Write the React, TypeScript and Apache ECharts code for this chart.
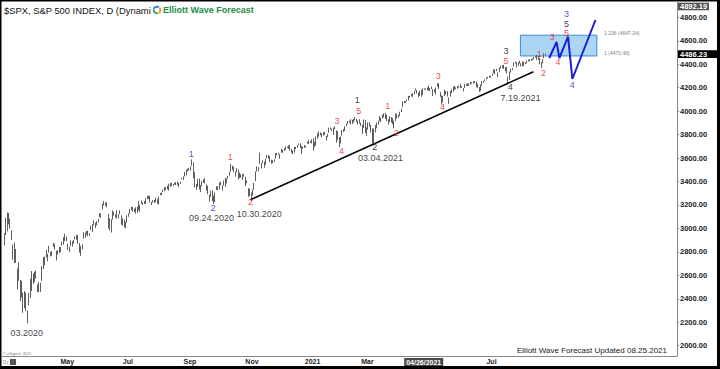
import React, { useEffect, useRef } from 'react';
import * as echarts from 'echarts';

// ---- daily price bars: [day, low, high] per month ----
const m2020_02 = [[28, 2855, 2959]];
const m2020_03 = [[2,2945,3090],[3,2976,3136],[4,3035,3131],[5,2999,3083],[6,2901,2985],[9,2734,2863],[10,2705,2882],[11,2707,2825],[12,2478,2660],[13,2555,2711],[16,2381,2562],[17,2409,2553],[18,2281,2453],[19,2319,2466],[20,2295,2453],[23,2192,2300],[24,2345,2449],[25,2407,2571],[26,2467,2637],[27,2525,2615],[30,2543,2631],[31,2572,2641]];
const m2020_04 = [[1,2459,2522],[2,2455,2540],[3,2459,2538],[6,2553,2677],[7,2653,2756],[8,2685,2760],[9,2753,2819],[13,2720,2782],[14,2793,2852],[15,2761,2801],[16,2767,2806],[17,2843,2879],[20,2820,2868],[21,2727,2810],[22,2777,2815],[23,2790,2844],[24,2798,2842],[27,2855,2888],[28,2861,2926],[29,2891,2954],[30,2892,2930]];
const m2020_05 = [[1,2816,2870],[4,2798,2844],[5,2852,2898],[6,2846,2891],[7,2870,2902],[8,2908,2932],[11,2903,2945],[12,2869,2945],[13,2794,2875],[14,2766,2852],[15,2822,2865],[18,2913,2969],[19,2922,2964],[20,2948,2981],[21,2933,2978],[22,2937,2957],[26,2988,3022],[27,2969,3036],[28,3025,3068],[29,3004,3049]];
const m2020_06 = [[1,3026,3062],[2,3051,3081],[3,3098,3130],[4,3090,3128],[5,3163,3211],[8,3196,3233],[9,3193,3222],[10,3181,3223],[11,2999,3123],[12,2984,3088],[15,2965,3079],[16,3075,3153],[17,3110,3141],[18,3093,3120],[19,3084,3156],[22,3084,3120],[23,3122,3154],[24,3032,3112],[25,3024,3086],[26,3007,3074],[29,3004,3054],[30,3047,3112]];
const m2020_07 = [[1,3099,3128],[2,3124,3165],[6,3156,3183],[7,3144,3184],[8,3141,3170],[9,3127,3180],[10,3135,3186],[13,3154,3235],[14,3142,3200],[15,3208,3238],[16,3199,3220],[17,3209,3233],[20,3208,3258],[21,3251,3277],[22,3248,3279],[23,3221,3280],[24,3200,3227],[27,3220,3241],[28,3217,3243],[29,3224,3263],[30,3209,3250],[31,3205,3272]];
const m2020_08 = [[3,3284,3302],[4,3284,3307],[5,3310,3331],[6,3318,3352],[7,3328,3352],[10,3332,3363],[11,3322,3381],[12,3355,3387],[13,3363,3387],[14,3361,3378],[17,3373,3388],[18,3370,3396],[19,3369,3399],[20,3354,3390],[21,3379,3399],[24,3418,3432],[25,3413,3444],[26,3444,3481],[27,3452,3502],[28,3486,3510],[31,3495,3514]];
const m2020_09 = [[1,3494,3528],[2,3535,3588],[3,3427,3564],[4,3350,3480],[8,3329,3380],[9,3354,3424],[10,3332,3425],[11,3310,3369],[14,3361,3403],[15,3388,3419],[16,3384,3428],[17,3323,3375],[18,3292,3363],[21,3229,3286],[22,3270,3321],[23,3232,3325],[24,3209,3279],[25,3224,3306],[28,3328,3361],[29,3327,3358],[30,3333,3393]];
const m2020_10 = [[1,3369,3398],[2,3324,3369],[5,3367,3409],[6,3354,3432],[7,3384,3426],[8,3425,3447],[9,3450,3482],[12,3484,3549],[13,3500,3534],[14,3480,3528],[15,3441,3485],[16,3479,3516],[19,3419,3502],[20,3431,3476],[21,3432,3461],[22,3415,3461],[23,3441,3466],[26,3361,3441],[27,3384,3410],[28,3270,3342],[29,3277,3342],[30,3234,3305]];
const m2020_11 = [[2,3280,3331],[3,3329,3389],[4,3404,3486],[5,3485,3529],[6,3486,3521],[9,3550,3646],[10,3511,3558],[11,3557,3582],[12,3518,3570],[13,3543,3593],[16,3600,3628],[17,3595,3624],[18,3567,3619],[19,3552,3586],[20,3556,3582],[23,3567,3589],[24,3595,3643],[25,3622,3643],[27,3630,3645],[30,3594,3634]];
const m2020_12 = [[1,3646,3678],[2,3645,3670],[3,3661,3682],[4,3670,3699],[7,3687,3698],[8,3678,3708],[9,3663,3712],[10,3645,3678],[11,3633,3665],[14,3646,3697],[15,3675,3695],[16,3688,3711],[17,3711,3725],[18,3685,3726],[21,3636,3702],[22,3680,3698],[23,3688,3712],[24,3689,3703],[28,3723,3740],[29,3720,3756],[30,3729,3744],[31,3725,3760]];
const m2021_01 = [[4,3663,3770],[5,3695,3738],[6,3706,3784],[7,3765,3811],[8,3783,3826],[11,3794,3818],[12,3777,3811],[13,3792,3820],[14,3795,3823],[15,3750,3788],[19,3780,3805],[20,3816,3859],[21,3845,3861],[22,3830,3852],[25,3797,3859],[26,3846,3870],[27,3732,3836],[28,3755,3830],[29,3694,3778]];
const m2021_02 = [[1,3725,3784],[2,3791,3838],[3,3824,3848],[4,3831,3872],[5,3872,3894],[8,3892,3915],[9,3902,3918],[10,3885,3931],[11,3890,3925],[12,3903,3934],[16,3921,3950],[17,3906,3933],[18,3885,3921],[19,3894,3931],[22,3874,3902],[23,3805,3883],[24,3857,3928],[25,3814,3925],[26,3789,3861]];
const m2021_03 = [[1,3843,3903],[2,3868,3906],[3,3817,3882],[4,3723,3852],[5,3730,3851],[8,3819,3881],[9,3854,3903],[10,3885,3918],[11,3916,3960],[12,3906,3944],[15,3937,3970],[16,3948,3981],[17,3933,3983],[18,3914,3969],[19,3885,3930],[22,3907,3955],[23,3902,3949],[24,3888,3942],[25,3853,3919],[26,3917,3978],[29,3937,3981],[30,3944,3968],[31,3959,3995]];
const m2021_04 = [[1,3992,4021],[5,4034,4084],[6,4068,4086],[7,4069,4084],[8,4083,4098],[9,4091,4129],[12,4114,4131],[13,4125,4148],[14,4122,4151],[15,4143,4173],[16,4175,4192],[19,4150,4180],[20,4118,4159],[21,4131,4175],[22,4124,4179],[23,4139,4194],[26,4182,4194],[27,4183,4193],[28,4177,4201],[29,4175,4219],[30,4171,4198]];
const m2021_05 = [[3,4188,4209],[4,4128,4187],[5,4162,4187],[6,4141,4202],[7,4207,4238],[10,4188,4237],[11,4122,4162],[12,4056,4134],[13,4074,4131],[14,4129,4183],[17,4143,4172],[18,4125,4170],[19,4062,4116],[20,4123,4173],[21,4154,4188],[24,4165,4210],[25,4181,4214],[26,4188,4202],[27,4192,4213],[28,4200,4218]];
const m2021_06 = [[1,4197,4234],[2,4198,4212],[3,4168,4197],[4,4198,4233],[7,4217,4232],[8,4213,4237],[9,4218,4237],[10,4224,4249],[11,4237,4249],[14,4235,4255],[15,4240,4257],[16,4203,4252],[17,4201,4233],[18,4164,4205],[21,4173,4226],[22,4217,4255],[23,4240,4256],[24,4255,4271],[25,4271,4286],[28,4279,4292],[29,4286,4300],[30,4286,4302]];
const m2021_07 = [[1,4300,4320],[2,4322,4355],[6,4315,4356],[7,4340,4361],[8,4289,4330],[9,4332,4372],[12,4365,4386],[13,4366,4393],[14,4359,4394],[15,4340,4376],[16,4321,4376],[19,4233,4296],[20,4265,4337],[21,4329,4359],[22,4351,4369],[23,4381,4415],[26,4405,4422],[27,4372,4416],[28,4386,4416],[29,4406,4430],[30,4381,4408]];
const m2021_08 = [[2,4381,4422],[3,4385,4423],[4,4400,4416],[5,4407,4430],[6,4425,4441],[9,4424,4442],[10,4429,4445],[11,4436,4449],[12,4441,4461],[13,4456,4468],[16,4437,4480],[17,4436,4468],[18,4400,4455],[19,4367,4418],[20,4408,4445],[23,4451,4492],[24,4478,4492]];

const priceMonths: [string, number[][]][] = [
  ['2020-02', m2020_02], ['2020-03', m2020_03], ['2020-04', m2020_04], ['2020-05', m2020_05],
  ['2020-06', m2020_06], ['2020-07', m2020_07], ['2020-08', m2020_08], ['2020-09', m2020_09],
  ['2020-10', m2020_10], ['2020-11', m2020_11], ['2020-12', m2020_12], ['2021-01', m2021_01],
  ['2021-02', m2021_02], ['2021-03', m2021_03], ['2021-04', m2021_04], ['2021-05', m2021_05],
  ['2021-06', m2021_06], ['2021-07', m2021_07], ['2021-08', m2021_08],
];

// ---- calendar ----
const HOLIDAYS = ['2020-04-10','2020-05-25','2020-07-03','2020-09-07','2020-11-26','2020-12-25','2021-01-01','2021-01-18','2021-02-15','2021-04-02','2021-05-31','2021-07-05','2021-09-06','2021-11-25','2021-12-24'];
const TOTAL_DAYS = 467;

// ---- axis ticks ----
const xTickDates = ['2020-05-01','2020-07-01','2020-09-01','2020-11-02','2021-01-04','2021-03-01','2021-07-01'];
const xTickLabels = ['May','Jul','Sep','Nov','2021','Mar','Jul'];
const cursorDate = '2021-04-26';
const cursorLabel = '04/26/2021';
const yTicks = [2000,2200,2400,2600,2800,3000,3200,3400,3600,3800,4000,4200,4400,4600,4800];

// ---- annotations ----
const lastPrice = 4486.23;
const topPrice = 4892.19;
const trendDates = ['2020-10-30','2021-08-12'];
const trendValues = [3245, 4336];
const projDates = ['2021-08-27','2021-09-03','2021-09-08','2021-09-16','2021-09-21','2021-10-13'];
const projValues = [4453, 4589, 4453, 4635, 4274, 4777];
const boxDates = ['2021-07-30','2021-10-14'];
const boxValues = [4647.24, 4470.48];
const boxTexts = ['1.236 (4647.24)', '1 (4470.48)'];
const boxTextDate = '2021-10-21';
const boxTextValues = [4667, 4496];

const waveText = ['03.2020','1','2','09.24.2020','1','2','10.30.2020','3','4','5','1','2','03.04.2021','1','2','3','4','3','5','4','7.19.2021','1','2','3','4','5','5','3','4'];
const waveDates = ['2020-03-23','2020-09-02','2020-09-24','2020-09-23','2020-10-12','2020-10-30','2020-11-09','2021-01-28','2021-02-02','2021-02-19','2021-02-18','2021-03-08','2021-03-12','2021-03-19','2021-03-29','2021-05-10','2021-05-13','2021-07-16','2021-07-16','2021-07-21','2021-07-30','2021-08-18','2021-08-23','2021-08-31','2021-09-07','2021-09-15','2021-09-15','2021-09-15','2021-09-21'];
const waveValues = [2110,3635,3172,3086,3606,3225,3123,3918,3660,4005,4099,3692,3598,4044,3816,4300,4038,4513,4427,4203,4109,4487,4328,4635,4419,4662,4743,4832,4223];
const waveColors = ['k','b','b','k','r','r','k','r','r','r','k','k','k','r','r','r','r','k','r','k','k','r','r','r','r','r','k','b','b'];

const COLORS: Record<string, string> = { k: '#0a0a0a', r: '#e01a18', b: '#1c1cd6' };
const FONT = '"Liberation Sans", Arial, sans-serif';

function buildDates(): string[] {
  const out: string[] = [];
  const d = new Date(Date.UTC(2020, 1, 28));
  while (out.length < TOTAL_DAYS) {
    const wd = d.getUTCDay();
    const s = d.toISOString().slice(0, 10);
    if (wd !== 0 && wd !== 6 && !HOLIDAYS.includes(s)) out.push(s);
    d.setUTCDate(d.getUTCDate() + 1);
  }
  return out;
}

export default function App() {
  const ref = useRef<HTMLDivElement>(null);
  useEffect(() => {
    if (!ref.current) return;
    const chart = echarts.init(ref.current, null, { renderer: 'svg' });
    const dates = buildDates();
    const idxOf: Record<string, number> = {};
    dates.forEach((d, i) => (idxOf[d] = i));
    const bars: number[][] = [];
    priceMonths.forEach(([m, rows]) => {
      rows.forEach((r) => {
        const key = `${m}-${String(r[0]).padStart(2, '0')}`;
        if (idxOf[key] !== undefined) bars.push([idxOf[key], r[1], r[2]]);
      });
    });
    const tickMap: Record<string, string> = {};
    xTickDates.forEach((d, i) => (tickMap[d] = xTickLabels[i]));
    tickMap[cursorDate] = '{cur|' + cursorLabel + '}';

    const option: any = {
      animation: false,
      backgroundColor: '#ffffff',
      grid: { left: 3, right: 43, top: -6.16, bottom: -0.2, containLabel: false, outerBoundsMode: 'none' },
      xAxis: {
        type: 'category',
        data: dates,
        boundaryGap: true,
        offset: -13.2,
        axisLine: { show: false },
        axisTick: { show: false },
        splitLine: { show: false },
        axisLabel: {
          interval: (i: number, v: string) => tickMap[v] !== undefined,
          formatter: (v: string) => tickMap[v] || '',
          margin: 2,
          fontFamily: FONT,
          fontSize: 7,
          fontWeight: 'bold',
          color: '#222',
          rich: {
            cur: { backgroundColor: '#4a4a4a', color: '#fff', fontSize: 7, fontWeight: 'bold', fontFamily: FONT, padding: [1, 2, 0, 2] },
          },
        },
      },
      yAxis: {
        type: 'value',
        position: 'right',
        min: 1800,
        max: 5000,
        interval: 200,
        axisLine: { show: false },
        axisTick: { show: true, length: 2, lineStyle: { color: '#777' } },
        splitLine: { show: false },
        axisLabel: {
          margin: 3,
          fontFamily: FONT,
          fontSize: 7.5,
          fontWeight: 'bold',
          color: '#222',
          formatter: (v: number) => (yTicks.includes(v) ? v.toFixed(2) : ''),
        },
      },
      series: [
        {
          type: 'line',
          z: 1,
          data: [],
          markArea: {
            silent: true,
            itemStyle: { color: '#aad6f4', borderColor: '#3d8bd0', borderWidth: 1 },
            data: [[{ xAxis: boxDates[0], yAxis: boxValues[0] }, { xAxis: boxDates[1], yAxis: boxValues[1] }]],
          },
        },
        {
          type: 'custom',
          z: 2,
          data: bars,
          encode: { x: 0, y: [1, 2] },
          renderItem: (params: any, api: any) => {
            const p1 = api.coord([api.value(0), api.value(1)]);
            const p2 = api.coord([api.value(0), api.value(2)]);
            const x = Math.round(p1[0]) + 0.5;
            return {
              type: 'line',
              shape: { x1: x, y1: p1[1], x2: x, y2: p2[1] },
              style: { stroke: '#5e5e5e', lineWidth: 1 },
            };
          },
        },
        {
          type: 'line',
          z: 3,
          symbol: 'none',
          data: trendDates.map((d, i) => [d, trendValues[i]]),
          lineStyle: { color: '#000', width: 1.5 },
        },
        {
          type: 'line',
          z: 4,
          symbol: 'none',
          data: projDates.map((d, i) => [d, projValues[i]]),
          lineStyle: { color: '#1d1dd6', width: 2 },
        },
        {
          type: 'scatter',
          z: 5,
          symbolSize: 0,
          data: waveText.map((t, i) => ({
            value: [waveDates[i], waveValues[i]],
            label: {
              show: true,
              position: 'inside',
              formatter: t,
              color: COLORS[waveColors[i]],
              fontFamily: FONT,
              fontSize: 9,
              lineHeight: 8,
            },
          })),
        },
        {
          type: 'scatter',
          z: 5,
          symbolSize: 0,
          data: boxTexts.map((t, i) => ({
            value: [boxTextDate, boxTextValues[i]],
            label: { show: true, position: 'right', distance: 0, formatter: t, color: '#555', fontFamily: FONT, fontSize: 5 },
          })),
        },
      ],
    };
    chart.setOption(option);

    const yLast = chart.convertToPixel({ yAxisIndex: 0 }, lastPrice) as number;
    const yTop = chart.convertToPixel({ yAxisIndex: 0 }, topPrice) as number;

    chart.setOption({
      graphic: [
        // frame
        { type: 'rect', shape: { x: 0.5, y: 0.5, width: 718, height: 367 }, style: { fill: 'none', stroke: '#000', lineWidth: 2 }, z: 10 },
        { type: 'rect', shape: { x: 0, y: 366, width: 720, height: 3 }, style: { fill: '#000' }, z: 10 },
        { type: 'rect', shape: { x: 717, y: 0, width: 3, height: 369 }, style: { fill: '#000' }, z: 10 },
        // plot separators
        { type: 'line', shape: { x1: 677.5, y1: 1, x2: 677.5, y2: 356 }, style: { stroke: '#888', lineWidth: 1 }, z: 10 },
        { type: 'line', shape: { x1: 1, y1: 356.5, x2: 677.5, y2: 356.5 }, style: { stroke: '#888', lineWidth: 1 }, z: 10 },
        // price tags
        { type: 'rect', shape: { x: 678, y: yTop - 3.8, width: 31, height: 7.6 }, style: { fill: '#555' }, z: 11 },
        { type: 'text', x: 680, y: yTop, style: { text: topPrice.toFixed(2), fill: '#fff', font: `bold 7.5px ${FONT}`, verticalAlign: 'middle' }, z: 12 },
        { type: 'rect', shape: { x: 678, y: yLast - 3.8, width: 40, height: 7.6 }, style: { fill: '#000' }, z: 11 },
        { type: 'text', x: 680, y: yLast, style: { text: lastPrice.toFixed(2), fill: '#fff', font: `bold 7.5px ${FONT}`, verticalAlign: 'middle' }, z: 12 },
        // header
        { type: 'text', x: 4, y: 10, style: { text: '$SPX, S&P 500 INDEX, D (Dynami', fill: '#111', font: `9.4px ${FONT}`, verticalAlign: 'middle' }, z: 12 },
        { type: 'arc', shape: { cx: 157, cy: 10, r: 3.3, startAngle: 3.4, endAngle: 5.3 }, style: { stroke: '#2a7fd4', lineWidth: 2, fill: 'none' }, z: 12 },
        { type: 'arc', shape: { cx: 157, cy: 10, r: 3.3, startAngle: 5.5, endAngle: 7.4 }, style: { stroke: '#f29a1f', lineWidth: 2, fill: 'none' }, z: 12 },
        { type: 'arc', shape: { cx: 157, cy: 10, r: 3.3, startAngle: 1.3, endAngle: 3.2 }, style: { stroke: '#33a852', lineWidth: 2, fill: 'none' }, z: 12 },
        { type: 'text', x: 163, y: 10, style: { text: 'Elliott Wave Forecast', fill: '#1b8c45', font: `bold 9px ${FONT}`, verticalAlign: 'middle' }, z: 12 },
        // footer
        { type: 'text', x: 667, y: 350, style: { text: 'Elliott Wave Forecast Updated 08.25.2021', fill: '#222', font: `8px ${FONT}`, align: 'right', verticalAlign: 'middle' }, z: 12 },
        { type: 'text', x: 3, y: 353, style: { text: '\u00a9 eSignal, 2021', fill: '#777', font: `4px ${FONT}`, verticalAlign: 'middle' }, z: 12 },
        { type: 'text', x: 3, y: 362, style: { text: 'Dy', fill: '#888', font: `4.5px ${FONT}`, verticalAlign: 'middle' }, z: 12 },
        { type: 'rect', shape: { x: 10, y: 359, width: 6, height: 6 }, style: { fill: '#555' }, z: 12 },
      ],
    });

    return () => chart.dispose();
  }, []);
  return (
    <div
      ref={ref}
      style={{ position: 'fixed', left: 0, top: 0, width: 720, height: 369, background: '#fff' }}
    />
  );
}
